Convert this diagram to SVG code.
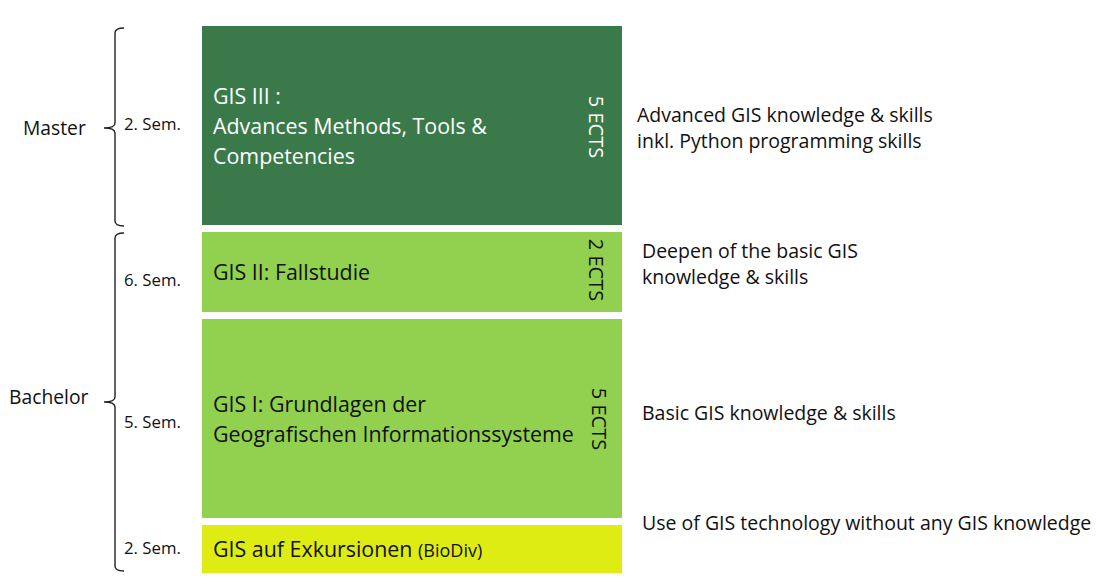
<svg xmlns="http://www.w3.org/2000/svg" width="1108" height="584" viewBox="0 0 1108 584">
<style>
text{font-family:"Open Sans","Liberation Sans",sans-serif;fill:#111}
.lvl{font-size:19.3px}
.sem{font-size:16.8px}
.box{font-size:21.4px}
.wt{fill:#fff}
.ects{font-size:20px}
.desc{font-size:19.5px}
.brace{fill:none;stroke:#222;stroke-width:1.4}
</style>
<rect width="1108" height="584" fill="#fff"/>
<g id="connectors">
<path class="brace" d="M124,28 Q115,28 115,33 L115,123 Q115,128 104,128 Q115,128 115,133 L115,221 Q115,226 124,226"/>
<path class="brace" d="M124,233 Q115,233 115,238 L115,397 Q115,402 104,402 Q115,402 115,407 L115,566 Q115,571 124,571"/>
</g>
<g id="labels">
<text class="lvl" x="23" y="135">Master</text>
<text class="lvl" x="9" y="404">Bachelor</text>
<text class="sem" x="124" y="130">2. Sem.</text>
<text class="sem" x="124" y="286">6. Sem.</text>
<text class="sem" x="124" y="428">5. Sem.</text>
<text class="sem" x="124" y="554">2. Sem.</text>
</g>
<g id="gis3">
<rect x="202" y="26" width="420" height="199" fill="#3A7A4A"/>
<text class="box wt" x="213" y="104">GIS III :</text>
<text class="box wt" x="213" y="134">Advances Methods, Tools &amp;</text>
<text class="box wt" x="213" y="164">Competencies</text>
<text class="ects wt" transform="translate(589,127) rotate(90)" text-anchor="middle">5 ECTS</text>
</g>
<g id="gis2">
<rect x="202" y="232" width="420" height="80" fill="#92D050"/>
<text class="box" x="213" y="280">GIS II: Fallstudie</text>
<text class="ects" transform="translate(589,270) rotate(90)" text-anchor="middle">2 ECTS</text>
</g>
<g id="gis1">
<rect x="202" y="319" width="420" height="199" fill="#92D050"/>
<text class="box" x="213" y="412">GIS I: Grundlagen der</text>
<text class="box" x="213" y="442">Geografischen Informationssysteme</text>
<text class="ects" transform="translate(592,419) rotate(90)" text-anchor="middle">5 ECTS</text>
</g>
<g id="gis0">
<rect x="202" y="525" width="420" height="48" fill="#DEEC14"/>
<text class="box" x="213" y="557">GIS auf Exkursionen <tspan font-size="18">(BioDiv)</tspan></text>
</g>
<g id="descriptions">
<text class="desc" x="637" y="122">Advanced GIS knowledge &amp; skills</text>
<text class="desc" x="637" y="148">inkl. Python programming skills</text>
<text class="desc" x="642" y="258">Deepen of the basic GIS</text>
<text class="desc" x="642" y="284">knowledge &amp; skills</text>
<text class="desc" x="642" y="420">Basic GIS knowledge &amp; skills</text>
<text class="desc" x="642" y="530">Use of GIS technology without any GIS knowledge</text>
</g>
</svg>
